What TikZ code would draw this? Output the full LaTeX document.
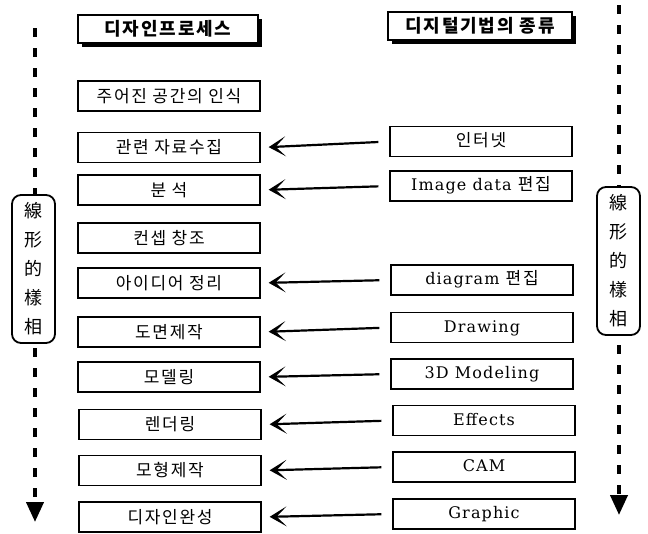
\documentclass[tikz,border=0pt]{standalone}
\usepackage{fontspec}
\setmainfont{DejaVu Serif}[LetterSpace=7]
\newfontfamily\kr{Noto Sans CJK KR}[LetterSpace=10]
\newfontfamily\hanja{Noto Sans CJK KR}
\usetikzlibrary{arrows.meta,shadows}

\tikzset{
  procbox/.style={draw, line width=1.3pt, fill=white, minimum width=182pt, minimum height=30pt, inner sep=0pt, font=\kr\fontsize{17}{20}\selectfont},
  techbox/.style={procbox, text height=12pt, text depth=3pt, font=\fontsize{16}{19}\selectfont},
  titlebox/.style={procbox, line width=1.5pt, minimum height=28pt, font=\kr\bfseries\fontsize{18}{20}\selectfont,
    drop shadow={shadow xshift=4pt, shadow yshift=-4pt, fill=black, opacity=1}},
  phasebox/.style={draw, line width=1.8pt, rounded corners=9pt, fill=white, minimum width=43pt, minimum height=148pt,
    inner sep=0pt, align=center, font=\hanja\fontsize{18}{29}\selectfont},
  flow/.style={line width=2.2pt, -{Stealth[length=17pt, width=20pt, inset=10pt]}, shorten <=11pt, shorten >=8pt},
  timeline/.style={line width=4pt, dash pattern=on 9pt off 11pt, -{Triangle[width=17pt, length=20pt]}}
}

\begin{document}
\begin{tikzpicture}[x=1pt, y=-1pt]
        \useasboundingbox (0,0) rectangle (648,533);
        % time lines on both sides
        \coordinate (ltop) at (35,28);
        \coordinate (lend) at (35,522);
        \coordinate (rtop) at (619,5);
        \coordinate (rend) at (619,515);
        \draw [timeline] (ltop) -- (lend);
        \draw [timeline] (rtop) -- (rend);
        \node [phasebox] (lphase) at (33.5,269) {線\\形\\的\\樣\\相};
        \node [phasebox] (rphase) at (618.5,261) {線\\形\\的\\樣\\相};
        % headings
        \node [titlebox, minimum width=180pt] (ptitle) at (168,29) {디자인프로세스};
        \node [titlebox, minimum width=184pt] (dtitle) at (480,26) {디지털기법의 종류};
        % design process
        \node [procbox] (p1) at (169,96) {주어진 공간의 인식};
        \node [procbox] (p2) at (169,147.5) {관련 자료수집};
        \node [procbox] (p3) at (169,190) {분 석};
        \node [procbox] (p4) at (169,238) {컨셉 창조};
        \node [procbox] (p5) at (169,283) {아이디어 정리};
        \node [procbox] (p6) at (169,332) {도면제작};
        \node [procbox] (p7) at (169,377) {모델링};
        \node [procbox] (p8) at (170,424.5) {렌더링};
        \node [procbox] (p9) at (170,470.5) {모형제작};
        \node [procbox] (p10) at (170,517) {디자인완성};
        % digital techniques
        \node [techbox] (d1) at (481,141.5) {{\kr\fontsize{17}{20}\selectfont 인터넷}};
        \node [techbox] (d2) at (481,186) {Image data {\kr\fontsize{17}{20}\selectfont 편집}};
        \node [techbox] (d3) at (482,280) {diagram {\kr\fontsize{17}{20}\selectfont 편집}};
        \node [techbox] (d4) at (482,327.5) {Drawing};
        \node [techbox] (d5) at (482,374) {3D Modeling};
        \node [techbox] (d6) at (484,420.5) {Effects};
        \node [techbox] (d7) at (484,467) {CAM};
        \node [techbox] (d8) at (484,514) {Graphic};
        \draw [flow] (d1.west) -- (p2.east);
        \draw [flow] (d2.west) -- (p3.east);
        \draw [flow] (d3.west) -- (p5.east);
        \draw [flow] (d4.west) -- (p6.east);
        \draw [flow] (d5.west) -- (p7.east);
        \draw [flow] (d6.west) -- (p8.east);
        \draw [flow] (d7.west) -- (p9.east);
        \draw [flow] (d8.west) -- (p10.east);
    \end{tikzpicture}
\end{document}
